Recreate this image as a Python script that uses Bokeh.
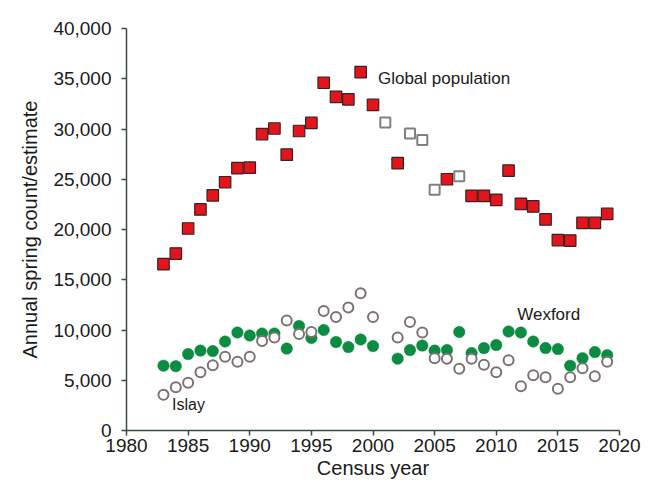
from bokeh.plotting import figure
from bokeh.models import Range1d, FixedTicker, NumeralTickFormatter, Label
from bokeh.embed import file_html
from bokeh.resources import INLINE

# ---- data ----
global_years = [1983, 1984, 1985, 1986, 1987, 1988, 1989, 1990, 1991, 1992, 1993,
                1994, 1995, 1996, 1997, 1998, 1999, 2000, 2002, 2006, 2008, 2009,
                2010, 2011, 2012, 2013, 2014, 2015, 2016, 2017, 2018, 2019]
global_counts = [16550, 17600, 20100, 22000, 23400, 24700, 26100, 26150, 29500, 30050, 27450,
                 29800, 30600, 34600, 33200, 32950, 35650, 32400, 26600, 25000, 23350, 23350,
                 22950, 25850, 22550, 22300, 21000, 18950, 18900, 20650, 20650, 21550]

estimate_years = [2001, 2003, 2004, 2005, 2007]
estimate_values = [30650, 29550, 28900, 23950, 25300]

site_years = [1983, 1984, 1985, 1986, 1987, 1988, 1989, 1990, 1991, 1992, 1993,
              1994, 1995, 1996, 1997, 1998, 1999, 2000, 2002, 2003, 2004, 2005,
              2006, 2007, 2008, 2009, 2010, 2011, 2012, 2013, 2014, 2015, 2016,
              2017, 2018, 2019]
wexford = [6450, 6400, 7600, 7950, 7900, 8850, 9750, 9450, 9650, 9650, 8150,
           10400, 9200, 10000, 8800, 8300, 9050, 8400, 7150, 8000, 8450, 7950,
           8000, 9800, 7700, 8200, 8500, 9850, 9750, 8850, 8200, 8100, 6450,
           7200, 7800, 7500]
islay = [3550, 4300, 4750, 5800, 6500, 7350, 6850, 7350, 8900, 9250, 10950,
         9600, 9800, 11900, 11300, 12250, 13650, 11300, 9250, 10800, 9750, 7200,
         7150, 6150, 7150, 6550, 5800, 7000, 4400, 5500, 5300, 4150, 5300,
         6200, 5400, 6850]

x_ticks = [1980, 1985, 1990, 1995, 2000, 2005, 2010, 2015, 2020]
y_ticks = [0, 5000, 10000, 15000, 20000, 25000, 30000, 35000, 40000]

FONT = "Liberation Sans"
AXIS_COL = "#3b4747"

p = figure(width=641, height=481, output_backend="svg", toolbar_location=None,
           x_range=Range1d(1980, 2020), y_range=Range1d(0, 40000),
           min_border_left=126, min_border_right=22, min_border_top=28,
           min_border_bottom=49)
p.outline_line_color = None
p.grid.visible = False
p.background_fill_color = "white"
p.border_fill_color = "white"

for ax in (p.xaxis[0], p.yaxis[0]):
    ax.axis_line_color = AXIS_COL
    ax.axis_line_width = 1.5
    ax.major_tick_line_color = AXIS_COL
    ax.major_tick_line_width = 1.5
    ax.major_tick_out = 5
    ax.major_tick_in = 0
    ax.minor_tick_line_color = None
    ax.major_label_text_font = FONT
    ax.major_label_text_font_size = "19px"
    ax.major_label_text_color = "#1a1a1a"
    ax.axis_label_text_font = FONT
    ax.axis_label_text_font_size = "20px"
    ax.axis_label_text_font_style = "normal"
    ax.axis_label_text_color = "#1a1a1a"

p.xaxis.ticker = FixedTicker(ticks=x_ticks)
p.yaxis.ticker = FixedTicker(ticks=y_ticks)
p.yaxis.formatter = NumeralTickFormatter(format="0,0")
p.xaxis.axis_label = "Census year"
p.yaxis.axis_label = "Annual spring count/estimate"
p.xaxis.major_label_standoff = 3
p.yaxis.major_label_standoff = 10
p.xaxis.axis_label_standoff = 2
p.yaxis.axis_label_standoff = 9

# Wexford (filled green) then Islay (open circles)
p.scatter(site_years, wexford, marker="circle", size=11.5,
          fill_color="#0b8c40", line_color="#0b8c40", line_width=0.5)
p.scatter(site_years, islay, marker="circle", size=10,
          fill_color="white", line_color="#7d7272", line_width=2)

# Global population: counts (red) and estimates (open)
p.scatter(global_years, global_counts, marker="square", size=11.5,
          fill_color="#e3141c", line_color="#3a2222", line_width=1.2)
p.scatter(estimate_years, estimate_values, marker="square", size=10,
          fill_color="white", line_color="#808080", line_width=2)

for txt, xx, yy, fs in [("Global population", 2000.4, 35000, "17px"),
                        ("Wexford", 2011.7, 11500, "17px"),
                        ("Islay", 1983.7, 2550, "16px")]:
    p.add_layout(Label(x=xx, y=yy, text=txt, text_font=FONT,
                       text_font_size=fs, text_color="#1a1a1a",
                       text_baseline="middle", text_align="left"))

open("out.html", "w").write(file_html(p, INLINE))
